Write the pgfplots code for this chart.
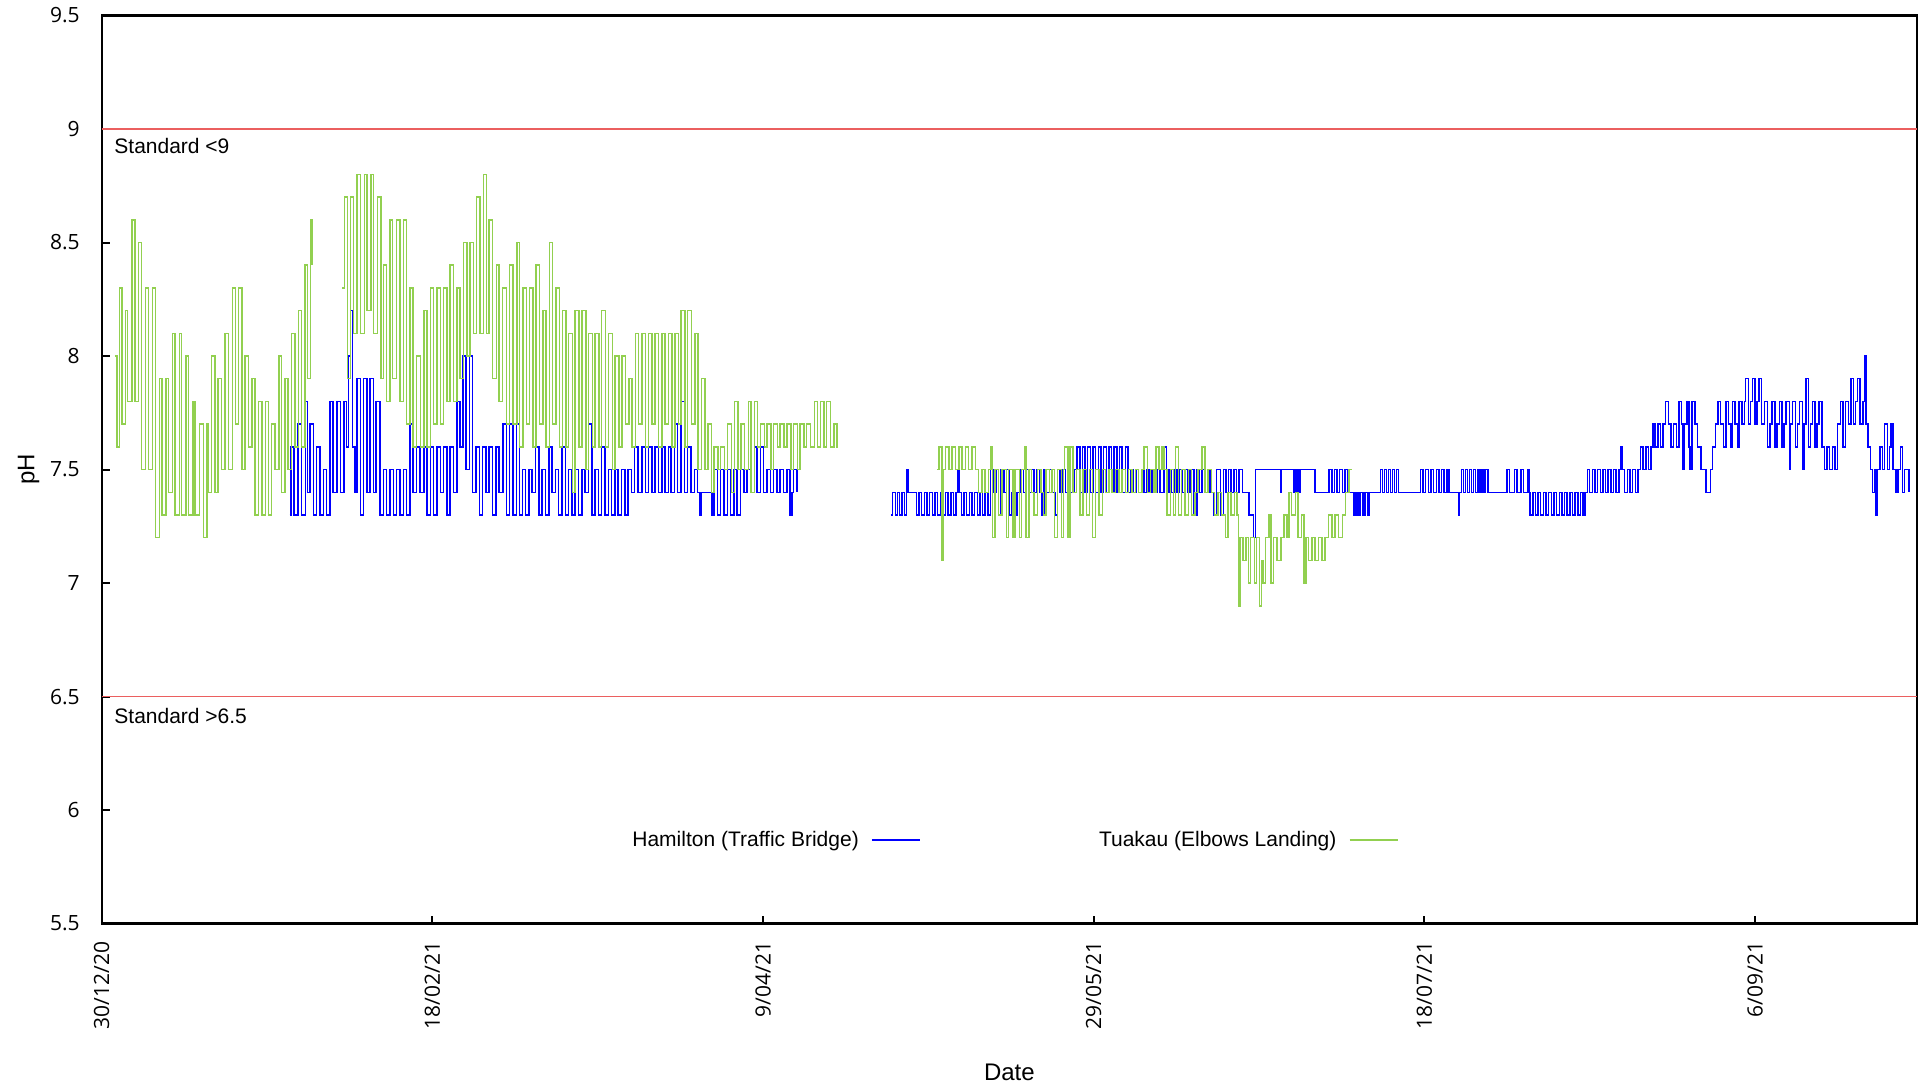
\documentclass[border=0pt]{standalone}
\usepackage{pgfplots}
\pgfplotsset{compat=1.18}
\usepackage{fontspec}
\setmainfont{Open Sans}
\newfontfamily\arial{Liberation Sans}
\definecolor{hamblue}{RGB}{0,0,255}
\definecolor{tuagreen}{RGB}{146,208,80}
\definecolor{stdred}{RGB}{235,95,95}

\begin{document}
\begin{tikzpicture}
\begin{axis}[
    name=ax,
    scale only axis,
    width=907.5pt, height=454pt,
    xmin=0, xmax=274.5,
    ymin=5.5, ymax=9.5,
    axis line style={line width=1.2pt},
    tick style={line width=1pt, black},
    tick align=inside,
    tick pos=left,
    major tick length=4pt,
    xtick={0,50,100,150,200,250},
    xticklabels={30/12/20,18/02/21,9/04/21,29/05/21,18/07/21,6/09/21},
    ytick={5.5,6,6.5,7,7.5,8,8.5,9,9.5},
    /pgf/number format/assume math mode=true,
    ticklabel style={font=\fontsize{10.5}{12}\selectfont},
    xticklabel style={yshift=-5.5pt, rotate=90, anchor=east},
    yticklabel style={xshift=-7.5pt},
    xlabel={Date},
    ylabel={pH},
    label style={font=\arial\fontsize{12}{14}\selectfont},
    xlabel style={at={(axis description cs:0.5,-0.1635)}, anchor=center},
    ylabel style={at={(axis description cs:-0.0403,0.5)}, anchor=center, rotate=0},
    legend plot pos=right,
    legend columns=2,
    legend image code/.code={\draw[#1, line width=1.1pt] (0pt,0pt) -- (24pt,0pt);},
    legend style={draw=none, fill=none, inner sep=0pt,
        at={(0.2921,0.092)}, anchor=west,
        nodes={inner sep=0pt, font=\arial\fontsize{10.5}{12}\selectfont},
        /tikz/every odd column/.append style={column sep=6pt},
        /tikz/every even column/.append style={column sep=89pt}},
]

% standards
\addplot[stdred, line width=0.8pt, forget plot] coordinates {(0,9) (274.5,9)};
\addplot[stdred, line width=0.8pt, forget plot] coordinates {(0,6.5) (274.5,6.5)};

% Hamilton (Traffic Bridge)
\addplot[hamblue, line width=0.75pt, const plot] coordinates {
(28.4,7.3) (28.6,7.6) (29.1,7.3) (29.7,7.7) (30.2,7.3) (30.8,7.8) (31.1,7.4) (31.5,7.7)
(32.0,7.3) (32.5,7.6) (33.0,7.3) (33.5,7.5) (34.0,7.3) (34.5,7.8) (35.0,7.4) (35.6,7.8)
(36.1,7.4) (36.6,7.8) (37.0,7.6) (37.3,8.0) (37.6,8.2) (37.9,7.6) (38.3,7.4) (38.6,7.9)
(39.1,7.3) (39.6,7.9) (40.1,7.4) (40.6,7.9) (41.1,7.4) (41.5,7.8) (42.1,7.3) (42.6,7.5)
(43.1,7.3) (43.6,7.5) (44.1,7.3) (44.6,7.5) (45.1,7.3) (45.6,7.5) (46.1,7.3) (46.6,7.7)
(47.1,7.4) (47.6,7.6) (48.1,7.4) (48.7,7.6) (49.2,7.3) (49.7,7.6) (50.2,7.3) (50.7,7.6)
(51.2,7.4) (51.7,7.6) (52.2,7.3) (52.7,7.6) (53.2,7.4) (53.7,7.8) (54.2,7.6) (54.6,8.0)
(55.1,7.5) (55.6,8.0) (56.1,7.4) (56.6,7.6) (57.1,7.3) (57.6,7.6) (58.1,7.4) (58.6,7.6)
(59.1,7.3) (59.6,7.6) (60.1,7.4) (60.7,7.7) (61.2,7.3) (61.7,7.7) (62.2,7.3) (62.7,7.7)
(63.2,7.3) (63.6,7.5) (64.1,7.3) (64.6,7.5) (65.1,7.4) (65.6,7.6) (66.1,7.3) (66.6,7.5)
(67.1,7.3) (67.6,7.6) (68.1,7.4) (68.6,7.5) (69.1,7.3) (69.6,7.6) (70.1,7.3) (70.6,7.5)
(71.1,7.3) (71.6,7.5) (72.1,7.3) (72.6,7.5) (73.1,7.4) (73.6,7.7) (74.1,7.3) (74.6,7.5)
(75.1,7.3) (75.6,7.6) (76.1,7.3) (76.6,7.5) (77.1,7.3) (77.6,7.5) (78.1,7.3) (78.6,7.5)
(79.1,7.3) (79.6,7.5) (80.1,7.4) (80.6,7.6) (81.1,7.4) (81.7,7.6) (82.2,7.4) (82.7,7.6)
(83.2,7.4) (83.7,7.6) (84.2,7.4) (84.7,7.6) (85.2,7.4) (85.7,7.6) (86.1,7.4) (86.6,7.7)
(87.1,7.4) (87.6,7.8) (88.1,7.4) (88.6,7.6) (89.1,7.4) (89.6,7.5) (90.1,7.4) (90.5,7.3)
(90.6,7.4) (92.0,7.4) (92.3,7.3) (92.6,7.5) (93.1,7.3) (93.6,7.5) (94.1,7.3) (94.6,7.5)
(95.1,7.3) (95.6,7.5) (96.1,7.3) (96.6,7.5) (97.1,7.4) (97.6,7.5) (98.1,7.4) (98.7,7.6)
(99.1,7.4) (99.6,7.6) (100.1,7.4) (100.6,7.5) (101.1,7.4) (101.6,7.5) (102.1,7.4) (102.6,7.5)
(103.1,7.4) (103.6,7.5) (104.1,7.3) (104.4,7.4) (104.6,7.5) (105.1,7.4)
};
\addlegendentry{Hamilton (Traffic Bridge)}
\addplot[hamblue, line width=0.75pt, const plot, forget plot] coordinates {
(119.4,7.3) (119.6,7.4) (120.0,7.3) (120.3,7.4) (120.6,7.3) (121.0,7.4) (121.4,7.3) (121.7,7.5)
(121.9,7.4) (122.8,7.4) (123.2,7.3) (123.6,7.4) (124.0,7.3) (124.4,7.4) (124.8,7.3) (125.2,7.4)
(125.6,7.3) (126.0,7.4) (126.4,7.3) (126.8,7.4) (127.2,7.3) (127.6,7.4) (128.0,7.3) (128.4,7.4)
(128.8,7.3) (129.2,7.4) (129.4,7.5) (129.6,7.4) (130.0,7.3) (130.4,7.4) (130.8,7.3) (131.2,7.4)
(131.6,7.3) (132.0,7.4) (132.4,7.3) (132.8,7.4) (133.2,7.3) (133.6,7.4) (134.0,7.3) (134.4,7.5)
(134.8,7.4) (135.2,7.5) (135.6,7.3) (136.0,7.5) (136.4,7.4) (136.8,7.5) (137.2,7.3) (137.6,7.4)
(138.0,7.3) (138.4,7.4) (139.0,7.5) (139.4,7.4) (139.8,7.5) (140.2,7.4) (140.6,7.5) (141.0,7.4)
(141.4,7.5) (141.8,7.4) (142.2,7.3) (142.5,7.5) (142.9,7.4) (143.3,7.5) (143.7,7.4) (144.2,7.3)
(144.5,7.5) (144.9,7.4) (145.3,7.5) (145.7,7.4) (146.1,7.5) (146.5,7.4) (147.0,7.5) (147.5,7.6)
(147.9,7.4) (148.3,7.6) (148.7,7.4) (149.1,7.6) (149.5,7.4) (149.9,7.6) (150.3,7.4) (150.7,7.6)
(151.1,7.4) (151.5,7.6) (151.9,7.4) (152.3,7.6) (152.7,7.4) (153.1,7.6) (153.5,7.4) (153.9,7.6)
(154.3,7.4) (154.8,7.6) (155.2,7.4) (155.6,7.5) (156.0,7.4) (156.4,7.5) (156.8,7.4) (157.2,7.5)
(157.6,7.4) (158.0,7.5) (158.4,7.4) (158.8,7.5) (159.2,7.4) (159.6,7.5) (160.0,7.4) (160.6,7.6)
(161.0,7.4) (161.4,7.5) (161.8,7.4) (162.2,7.5) (162.6,7.4) (163.0,7.5) (163.4,7.4) (163.8,7.5)
(164.2,7.4) (164.6,7.5) (165.2,7.3) (165.6,7.5) (166.0,7.4) (166.4,7.5) (166.8,7.4) (167.2,7.5)
(167.6,7.4) (168.2,7.3) (168.6,7.5) (169.2,7.3) (169.6,7.5) (170.0,7.4) (170.4,7.5) (170.8,7.4)
(171.2,7.5) (171.6,7.4) (172.0,7.5) (172.5,7.4) (173.0,7.4) (173.5,7.3) (174.2,7.2) (174.5,7.5)
(178.3,7.4) (178.4,7.5) (180.3,7.4) (180.6,7.5) (180.9,7.4) (181.2,7.5) (183.5,7.4) (185.6,7.5)
(186.0,7.4) (186.4,7.5) (186.8,7.4) (187.2,7.5) (187.6,7.4) (188.0,7.5) (188.4,7.4) (189.4,7.3)
(189.7,7.4) (190.0,7.3) (190.3,7.4) (190.7,7.3) (191.0,7.4) (191.4,7.3) (191.6,7.4) (193.4,7.5)
(193.7,7.4) (194.0,7.5) (194.3,7.4) (194.6,7.5) (194.9,7.4) (195.2,7.5) (195.5,7.4) (195.8,7.5)
(196.1,7.4) (199.4,7.5) (199.8,7.4) (200.2,7.5) (200.6,7.4) (201.0,7.5) (201.4,7.4) (201.8,7.5)
(202.2,7.4) (202.6,7.5) (203.0,7.4) (203.4,7.5) (203.7,7.4) (205.2,7.3) (205.3,7.4) (205.6,7.5)
(205.9,7.4) (206.2,7.5) (206.5,7.4) (206.8,7.5) (207.1,7.4) (207.4,7.5) (207.7,7.4) (208.0,7.5)
(208.3,7.4) (208.6,7.5) (208.9,7.4) (209.2,7.5) (209.6,7.4) (212.5,7.5) (212.9,7.4) (213.6,7.5)
(214.0,7.4) (214.6,7.5) (215.0,7.4) (215.6,7.5) (215.8,7.4) (216.0,7.3) (216.4,7.4) (216.8,7.3)
(217.2,7.4) (217.6,7.3) (218.0,7.4) (218.4,7.3) (218.8,7.4) (219.2,7.3) (219.6,7.4) (220.0,7.3)
(220.4,7.4) (220.8,7.3) (221.2,7.4) (221.6,7.3) (222.0,7.4) (222.4,7.3) (222.8,7.4) (223.2,7.3)
(223.6,7.4) (224.0,7.3) (224.3,7.4) (224.7,7.5) (225.0,7.4) (225.4,7.5) (225.8,7.4) (226.2,7.5)
(226.6,7.4) (227.0,7.5) (227.4,7.4) (227.8,7.5) (228.2,7.4) (228.6,7.5) (229.0,7.4) (229.4,7.5)
(229.7,7.6) (229.9,7.5) (230.3,7.4) (230.7,7.5) (231.1,7.4) (231.5,7.5) (231.9,7.4) (232.3,7.5)
(232.7,7.6) (233.1,7.5) (233.5,7.6) (233.9,7.5) (234.3,7.6) (234.6,7.7) (234.9,7.6) (235.3,7.7)
(235.7,7.6) (236.1,7.7) (236.5,7.8) (236.9,7.7) (237.3,7.6) (237.7,7.7) (238.1,7.6) (238.5,7.8)
(238.9,7.7) (239.0,7.5) (239.3,7.7) (239.7,7.8) (240.0,7.6) (240.2,7.5) (240.5,7.8) (240.9,7.7)
(241.3,7.6) (241.8,7.5) (242.6,7.4) (243.3,7.5) (243.6,7.6) (244.0,7.7) (244.4,7.8) (244.8,7.7)
(245.2,7.6) (245.6,7.8) (246.0,7.7) (246.4,7.6) (246.6,7.8) (247.0,7.7) (247.4,7.6) (247.6,7.8)
(248.0,7.7) (248.4,7.8) (248.6,7.9) (249.0,7.7) (249.3,7.8) (249.6,7.9) (250.0,7.7) (250.3,7.8)
(250.6,7.9) (251.0,7.7) (251.4,7.8) (251.9,7.6) (252.3,7.7) (252.6,7.8) (253.0,7.6) (253.3,7.7)
(253.7,7.8) (254.1,7.6) (254.4,7.7) (254.7,7.8) (255.2,7.5) (255.4,7.7) (255.7,7.8) (256.1,7.6)
(256.4,7.7) (256.7,7.8) (257.2,7.5) (257.4,7.7) (257.7,7.9) (258.1,7.6) (258.4,7.7) (258.7,7.8)
(259.1,7.6) (259.4,7.7) (259.7,7.8) (260.1,7.6) (260.5,7.5) (260.9,7.6) (261.3,7.5) (261.7,7.6)
(262.1,7.5) (262.5,7.7) (262.9,7.8) (263.3,7.6) (263.7,7.8) (264.1,7.7) (264.5,7.9) (264.9,7.7)
(265.2,7.8) (265.5,7.9) (265.9,7.7) (266.3,7.8) (266.6,8.0) (266.8,7.7) (267.1,7.6) (267.5,7.5)
(267.8,7.4) (268.1,7.5) (268.3,7.3) (268.5,7.5) (268.9,7.6) (269.3,7.5) (269.6,7.7) (270.0,7.5)
(270.3,7.6) (270.6,7.7) (270.9,7.5) (271.3,7.4) (271.6,7.5) (272.0,7.6) (272.3,7.4) (272.6,7.5)
(273.0,7.5) (273.3,7.4)
};

% Tuakau (Elbows Landing)
\addplot[tuagreen, line width=0.75pt, const plot] coordinates {
(2.0,8.0) (2.3,7.6) (2.7,8.3) (3.1,7.7) (3.6,8.2) (3.9,7.8) (4.6,8.6) (5.0,7.8)
(5.6,8.5) (6.0,7.5) (6.65,8.3) (7.05,7.5) (7.7,8.3) (8.1,7.2) (8.7,7.9) (9.1,7.3)
(9.7,7.9) (10.1,7.4) (10.7,8.1) (11.1,7.3) (11.75,8.1) (12.1,7.3) (12.75,8.0) (13.1,7.3)
(13.8,7.8) (14.1,7.3) (14.8,7.7) (15.4,7.2) (15.9,7.7) (16.1,7.4) (16.6,8.0) (17.1,7.4)
(17.6,7.9) (18.1,7.5) (18.65,8.1) (19.2,7.5) (19.8,8.3) (20.2,7.7) (20.7,8.3) (21.2,7.5)
(21.7,8.0) (22.2,7.6) (22.7,7.9) (23.2,7.3) (23.7,7.8) (24.2,7.3) (24.8,7.8) (25.2,7.3)
(25.7,7.7) (26.2,7.5) (26.8,8.0) (27.2,7.4) (27.7,7.9) (28.2,7.5) (28.7,8.1) (29.2,7.6)
(29.75,8.2) (30.2,7.6) (30.75,8.4) (31.1,7.9) (31.6,8.6) (31.8,8.4)
};
\addlegendentry{Tuakau (Elbows Landing)}
\addplot[tuagreen, line width=0.75pt, const plot, forget plot] coordinates {
(36.4,8.3) (36.7,8.7) (37.2,7.9) (37.6,8.7) (38.1,8.1) (38.6,8.8) (39.1,8.1) (39.7,8.8)
(40.1,8.2) (40.7,8.8) (41.1,8.1) (41.7,8.7) (42.2,7.9) (42.6,8.4) (43.1,7.8) (43.6,8.6)
(44.0,7.9) (44.6,8.6) (45.1,7.8) (45.6,8.6) (46.1,7.7) (46.6,8.3) (47.1,7.6) (47.6,8.0)
(48.2,7.6) (48.7,8.2) (49.2,7.6) (49.7,8.3) (50.2,7.7) (50.7,8.3) (51.2,7.7) (51.7,8.3)
(52.2,7.8) (52.7,8.4) (53.2,7.8) (53.7,8.3) (54.2,7.9) (54.7,8.5) (55.2,8.0) (55.7,8.5)
(56.2,8.1) (56.7,8.7) (57.2,8.1) (57.7,8.8) (58.2,8.1) (58.6,8.6) (59.1,7.9) (59.7,8.4)
(60.1,7.8) (60.6,8.3) (61.2,7.7) (61.7,8.4) (62.2,7.7) (62.8,8.5) (63.2,7.6) (63.7,8.3)
(64.2,7.7) (64.7,8.3) (65.2,7.6) (65.7,8.4) (66.2,7.7) (66.7,8.2) (67.2,7.6) (67.7,8.5)
(68.2,7.7) (68.7,8.3) (69.2,7.6) (69.7,8.2) (70.2,7.6) (70.6,8.1) (71.2,7.4) (71.6,8.2)
(72.2,7.6) (72.6,8.2) (73.2,7.5) (73.6,8.1) (74.2,7.6) (74.6,8.1) (75.2,7.6) (75.6,8.2)
(76.2,7.6) (76.6,8.1) (77.2,7.5) (77.6,8.0) (78.2,7.6) (78.7,8.0) (79.2,7.7) (79.7,7.9)
(80.2,7.6) (80.7,8.1) (81.2,7.7) (81.7,8.1) (82.2,7.6) (82.7,8.1) (83.2,7.7) (83.7,8.1)
(84.2,7.6) (84.7,8.1) (85.2,7.7) (85.7,8.1) (86.2,7.6) (86.7,8.1) (87.2,7.7) (87.6,8.2)
(88.2,7.6) (88.6,8.2) (89.2,7.7) (89.7,8.1) (90.2,7.5) (90.7,7.9) (91.2,7.5) (91.7,7.7)
(92.2,7.4) (92.6,7.6) (93.2,7.5) (93.6,7.6) (94.2,7.5) (94.6,7.7) (95.2,7.4) (95.7,7.8)
(96.2,7.5) (96.7,7.7) (97.2,7.5) (97.8,7.8) (98.2,7.4) (98.7,7.8) (99.2,7.6) (99.6,7.7)
(100.2,7.6) (100.6,7.7) (101.2,7.5) (101.6,7.7) (102.2,7.6) (102.6,7.7) (103.2,7.6) (103.6,7.7)
(104.2,7.5) (104.6,7.7) (105.2,7.5) (105.6,7.7) (106.2,7.6) (106.6,7.7) (107.2,7.6) (107.8,7.8)
(108.2,7.6) (108.7,7.8) (109.2,7.6) (109.6,7.8) (110.2,7.6) (110.7,7.7) (111.2,7.6) (111.4,7.6)
};
\addplot[tuagreen, line width=0.75pt, const plot, forget plot] coordinates {
(126.3,7.5) (126.6,7.6) (127.1,7.1) (127.2,7.5) (127.6,7.6) (128.1,7.5) (128.6,7.6) (129.1,7.5)
(129.6,7.6) (130.1,7.5) (130.6,7.6) (131.1,7.5) (131.6,7.6) (132.1,7.5) (132.6,7.4) (133.1,7.5)
(133.6,7.4) (134.1,7.5) (134.5,7.6) (134.7,7.2) (135.1,7.5) (135.6,7.3) (136.1,7.5) (136.8,7.2)
(137.1,7.5) (137.8,7.2) (138.1,7.5) (138.8,7.2) (139.1,7.5) (139.6,7.6) (139.8,7.2) (140.2,7.5)
(140.6,7.4) (141.0,7.3) (141.5,7.5) (142.0,7.4) (142.4,7.3) (142.8,7.5) (143.3,7.4) (143.7,7.5)
(144.1,7.2) (144.5,7.5) (145.1,7.2) (145.4,7.5) (145.6,7.6) (146.1,7.2) (146.4,7.6) (146.9,7.4)
(147.4,7.5) (147.9,7.3) (148.4,7.5) (148.9,7.3) (149.4,7.5) (149.8,7.2) (150.3,7.5) (150.8,7.3)
(151.3,7.5) (151.8,7.4) (152.3,7.5) (152.8,7.4) (153.3,7.5) (153.8,7.4) (154.3,7.5) (154.8,7.4)
(155.3,7.5) (155.8,7.4) (156.3,7.5) (156.8,7.4) (157.3,7.5) (157.6,7.6) (158.1,7.4) (158.6,7.5)
(159.1,7.4) (159.4,7.6) (159.9,7.5) (160.3,7.6) (160.6,7.5) (161.1,7.3) (161.6,7.5) (162.1,7.3)
(162.4,7.6) (162.8,7.3) (163.3,7.5) (163.8,7.3) (164.3,7.5) (164.8,7.3) (165.3,7.4) (165.8,7.5)
(166.4,7.6) (166.8,7.4) (167.3,7.5) (167.8,7.4) (168.3,7.3) (168.8,7.4) (169.3,7.3) (169.9,7.2)
(170.3,7.4) (170.8,7.3) (171.3,7.4) (171.7,7.3) (171.9,6.9) (172.1,7.2) (172.6,7.1) (173.0,7.2)
(173.4,7.0) (173.7,7.2) (174.3,7.0) (174.6,7.2) (175.1,6.9) (175.4,7.1) (175.6,7.0) (176.0,7.2)
(176.5,7.3) (176.8,7.0) (177.2,7.2) (177.7,7.1) (178.3,7.2) (178.8,7.3) (179.2,7.2) (179.5,7.4)
(179.9,7.3) (180.5,7.4) (180.9,7.2) (181.4,7.3) (181.8,7.0) (182.1,7.2) (182.5,7.1) (183.0,7.2)
(183.5,7.1) (184.0,7.2) (184.5,7.1) (185.0,7.2) (185.5,7.3) (186.0,7.2) (186.5,7.3) (187.0,7.2)
(187.6,7.3) (188.1,7.4) (188.6,7.5) (189.0,7.5)
};

\node[anchor=west, inner sep=0pt, font=\arial\fontsize{10.5}{12}\selectfont] at (axis cs:1.86,8.925) {Standard <9};
\node[anchor=west, inner sep=0pt, font=\arial\fontsize{10.5}{12}\selectfont] at (axis cs:1.86,6.415) {Standard >6.5};
\end{axis}
\pgfresetboundingbox
\path ([shift={(-50.85pt,-83.25pt)}]ax.south west) rectangle ([shift={(2pt,7.75pt)}]ax.north east);
\end{tikzpicture}
\end{document}
